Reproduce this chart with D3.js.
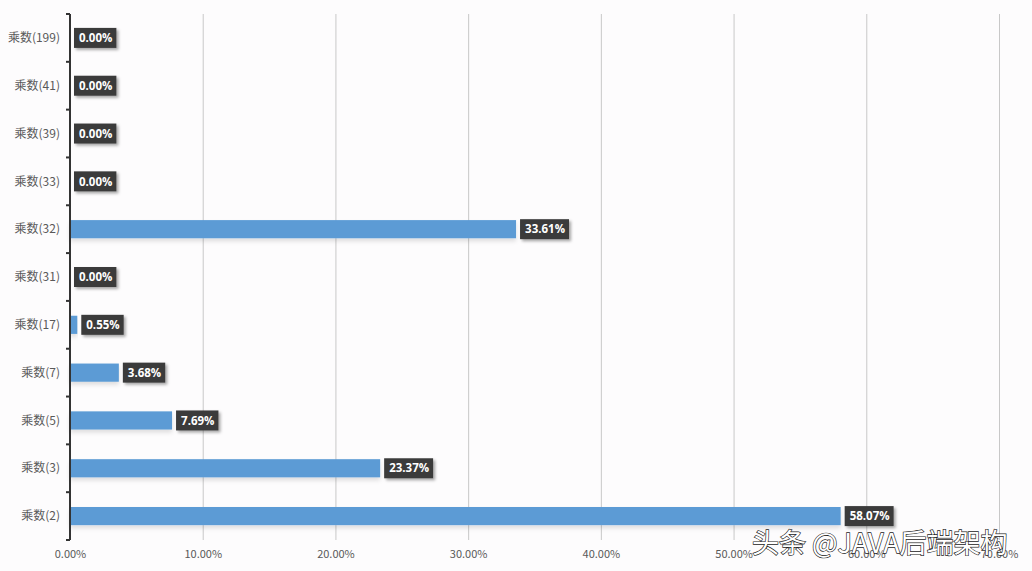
<!DOCTYPE html>
<html><head><meta charset="utf-8">
<script src="https://cdn.jsdelivr.net/npm/d3@7/dist/d3.min.js"></script>
<style>body{margin:0;background:#fdfcfd;}svg{display:block;}</style>
</head><body>
<svg id="c" width="1032" height="571"></svg>
<script>
const categories = ["乘数(199)","乘数(41)","乘数(39)","乘数(33)","乘数(32)","乘数(31)","乘数(17)","乘数(7)","乘数(5)","乘数(3)","乘数(2)"];
const values = [0.00, 0.00, 0.00, 0.00, 33.61, 0.00, 0.55, 3.68, 7.69, 23.37, 58.07];
const xTicks = [0,10,20,30,40,50,60,70];
const watermark = "头条 @JAVA后端架构";

const svg = d3.select("#c");
const font = "'Noto Sans CJK SC','Open Sans',sans-serif";
const x = d3.scaleLinear().domain([0,70]).range([70,999]);
const y = d3.scaleBand().domain(categories).range([14,540]).paddingInner(0.62).paddingOuter(0.31);

const defs = svg.append("defs");
const f = defs.append("filter").attr("id","sh").attr("x","-20%").attr("y","-30%").attr("width","150%").attr("height","180%");
f.append("feDropShadow").attr("dx",2).attr("dy",2).attr("stdDeviation",1.5).attr("flood-color","#000").attr("flood-opacity",0.35);
const fb = defs.append("filter").attr("id","bs").attr("x","-5%").attr("y","-30%").attr("width","110%").attr("height","200%");
fb.append("feDropShadow").attr("dx",0).attr("dy",3).attr("stdDeviation",2).attr("flood-color","#000").attr("flood-opacity",0.12);

// gridlines
svg.append("g").selectAll("line").data(xTicks.slice(1)).join("line")
  .attr("x1",d=>x(d)+0.5).attr("x2",d=>x(d)+0.5).attr("y1",14).attr("y2",540)
  .attr("stroke","#c8c8c8").attr("stroke-width",1);

// bars
svg.append("g").selectAll("rect").data(values).join("rect")
  .attr("x",x(0)).attr("y",(d,i)=>y(categories[i]))
  .attr("width",d=>x(d)-x(0)).attr("height",y.bandwidth())
  .attr("fill","#5b9bd5").attr("filter","url(#bs)");

// y axis
const yAxis = svg.append("g").attr("transform","translate(70,0)");
yAxis.append("line").attr("x1",0).attr("x2",0).attr("y1",14).attr("y2",540).attr("stroke","#333").attr("stroke-width",2);
const bounds = d3.range(categories.length+1).map(i=>14 + i*(526/categories.length));
yAxis.selectAll("line.t").data(bounds).join("line").attr("class","t")
  .attr("x1",-4).attr("x2",0).attr("y1",d=>d).attr("y2",d=>d).attr("stroke","#333").attr("stroke-width",2);
yAxis.selectAll("text").data(categories).join("text")
  .attr("x",-10).attr("y",d=>y(d)+y.bandwidth()/2).attr("dy","0.35em")
  .attr("text-anchor","end").attr("font-family",font).attr("font-size",12).attr("fill","#595959").text(d=>d);

// x axis labels
const xAxis = d3.axisBottom(x).tickValues(xTicks).tickFormat(d=>d.toFixed(2)+"%").tickSize(0).tickPadding(0);
const gx = svg.append("g").attr("transform","translate(0,550)").call(xAxis);
gx.select(".domain").remove();
gx.selectAll("text").attr("font-family",font).attr("font-size",11).attr("fill","#595959");

// data labels
const lg = svg.append("g").selectAll("g").data(values).join("g")
  .attr("transform",(d,i)=>`translate(${x(d)+4},${y(categories[i])+y.bandwidth()/2})`);
lg.each(function(d){
  const g = d3.select(this);
  const t = g.append("text").attr("x",5).attr("dy","0.36em")
    .attr("font-family","'Open Sans',sans-serif").attr("font-weight","bold").attr("font-size",11.5)
    .attr("fill","#fff").text(d.toFixed(2)+"%");
  const w = t.node().getComputedTextLength();
  g.insert("rect","text").attr("x",0).attr("y",-10).attr("width",w+9).attr("height",20)
    .attr("fill","#3a3a3a").attr("filter","url(#sh)");
});

// watermark
svg.append("text").attr("x",752).attr("y",553).attr("font-family",font).attr("font-size",27)
  .attr("fill","#fff").attr("stroke","#222").attr("stroke-width",1.3).attr("paint-order","stroke")
  .text(watermark);
</script>
</body></html>
